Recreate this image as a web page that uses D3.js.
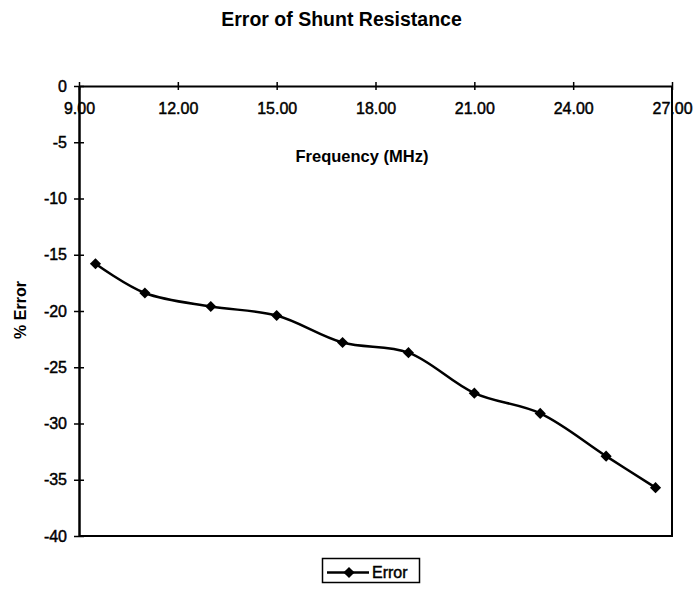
<!DOCTYPE html>
<html>
<head>
<meta charset="utf-8">
<script src="https://cdn.jsdelivr.net/npm/d3@7"></script>
<style>
  html, body { margin: 0; padding: 0; background: #fff; }
  svg { display: block; font-family: "Liberation Sans", Arial, Helvetica, sans-serif; }
  .ink { stroke: #000; stroke-width: 0.45px; paint-order: stroke; }
</style>
</head>
<body>
<svg id="chart" width="698" height="592"></svg>
<script>
// Measured shunt resistance error versus frequency
const frequency = [9.5, 11, 13, 15, 17, 19, 21, 23, 25, 26.5];
const errorPct  = [-15.8, -18.4, -19.6, -20.4, -22.8, -23.7, -27.3, -29.1, -32.9, -35.7];
const xTicks = [9, 12, 15, 18, 21, 24, 27];
const yTicks = [0, -5, -10, -15, -20, -25, -30, -35, -40];
const seriesName = "Error";

const svg = d3.select("#chart");
const plot = { left: 79, right: 672, top: 86, bottom: 536 };

const x = d3.scaleLinear().domain([9, 27]).range([plot.left, plot.right]);
const y = d3.scaleLinear().domain([-40, 0]).range([plot.bottom, plot.top]);

// Title
svg.append("text")
  .attr("x", 341.5).attr("y", 26)
  .attr("text-anchor", "middle")
  .attr("font-size", 19.5).attr("font-weight", "bold")
  .text("Error of Shunt Resistance");

// Plot frame (right and bottom edges)
svg.append("path")
  .attr("d", `M${plot.left},${plot.bottom}H${plot.right}V${plot.top}`)
  .attr("fill", "none").attr("stroke", "#000").attr("stroke-width", 2);

// X axis sits on y = 0, ticks crossing the line
const xAxis = d3.axisBottom(x).tickValues(xTicks)
  .tickFormat(d3.format(".2f")).tickSize(4).tickSizeOuter(0).tickPadding(13);
const gx = svg.append("g").attr("transform", `translate(0,${y(0)})`).call(xAxis);
gx.select(".domain").attr("stroke-width", 2);
gx.selectAll(".tick line").attr("y1", -4).attr("stroke-width", 1.5);
gx.selectAll(".tick text").attr("font-size", 16).attr("font-family", null)
  .attr("fill", "#000").attr("class", "ink");

// Y axis
const yAxis = d3.axisLeft(y).tickValues(yTicks)
  .tickFormat(d3.format("d")).tickSize(5).tickSizeOuter(0).tickPadding(7);
const gy = svg.append("g").attr("transform", `translate(${plot.left},0)`).call(yAxis);
gy.select(".domain").attr("stroke-width", 2.5);
gy.selectAll(".tick line").attr("x2", 5).attr("x1", -5).attr("stroke-width", 1.5);
gy.selectAll(".tick text").attr("font-size", 16).attr("font-family", null)
  .attr("fill", "#000").attr("class", "ink")
  .text(d => d === 0 ? "0" : "-" + Math.abs(d));

// Axis titles
svg.append("text")
  .attr("x", 362).attr("y", 161.5)
  .attr("text-anchor", "middle")
  .attr("font-size", 16.5).attr("font-weight", "bold")
  .text("Frequency (MHz)");

svg.append("text")
  .attr("transform", "translate(26,310) rotate(-90)")
  .attr("text-anchor", "middle")
  .attr("font-size", 16).attr("font-weight", "bold")
  .text("% Error");

// Series line
const pts = frequency.map((f, i) => [f, errorPct[i]]);
const line = d3.line().x(d => x(d[0])).y(d => y(d[1])).curve(d3.curveCatmullRom.alpha(0.5));
svg.append("path")
  .attr("d", line(pts))
  .attr("fill", "none").attr("stroke", "#000").attr("stroke-width", 2.5);

// Diamond markers
const diamond = d3.symbol().type(d3.symbolSquare).size(62);
svg.append("g").selectAll("path").data(pts).join("path")
  .attr("transform", d => `translate(${x(d[0])},${y(d[1])}) rotate(45)`)
  .attr("d", diamond).attr("fill", "#000");

// Legend
const lg = svg.append("g");
lg.append("rect")
  .attr("x", 322.5).attr("y", 558.5).attr("width", 97).attr("height", 24)
  .attr("fill", "#fff").attr("stroke", "#000").attr("stroke-width", 1.5);
lg.append("line")
  .attr("x1", 327).attr("x2", 369).attr("y1", 572.5).attr("y2", 572.5)
  .attr("stroke", "#000").attr("stroke-width", 2.5);
lg.append("path")
  .attr("transform", "translate(349,572.5) rotate(45)")
  .attr("d", diamond).attr("fill", "#000");
lg.append("text")
  .attr("x", 372).attr("y", 577.5)
  .attr("font-size", 16).attr("class", "ink")
  .text(seriesName);
</script>
</body>
</html>
